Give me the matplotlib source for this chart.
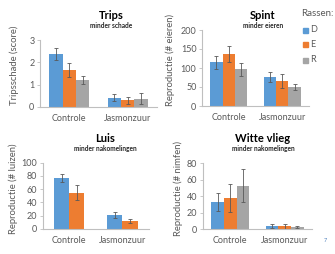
import matplotlib
matplotlib.use('Agg')
import matplotlib.pyplot as plt
from matplotlib import font_manager

# data
groups = ['Controle', 'Jasmonzuur']
rassen = ['D', 'E', 'R']
colors = ['#5B9BD5', '#ED7D31', '#A5A5A5']

trips_mean = [[2.37, 0.42], [1.66, 0.30], [1.21, 0.38]]
trips_err = [[0.25, 0.15], [0.33, 0.17], [0.19, 0.25]]

spint_mean = [[115, 76], [136, 66], [97, 50]]
spint_err = [[17, 14], [21, 18], [17, 9]]

luis_mean = [[77, 21], [55, 12]]
luis_err = [[6, 4.5], [11, 3.5]]

vlieg_mean = [[33, 4.5], [38, 3.5], [53, 2.5]]
vlieg_err = [[11, 2.5], [17.5, 3], [19.5, 1]]

names = {f.name for f in font_manager.fontManager.ttflist}
font = 'Liberation Sans Narrow' if 'Liberation Sans Narrow' in names else 'Lato'
plt.rcParams['font.family'] = [font, 'DejaVu Sans']

W, H = 335, 254
fig = plt.figure(figsize=(W / 100, H / 100), dpi=100)
txt = '#595959'


def px_axes(l, t, r, b):
    return fig.add_axes([l / W, (H - b) / H, (r - l) / W, (b - t) / H])


def panel(rect, means, errs, ymax, yticks, ylabel, title, sub, tpos, ylab_x, ylab_y):
    l, t, r, b = rect
    ax = px_axes(l, t, r, b)
    n = len(means)
    w = 0.23 if n == 3 else 0.285
    for i in range(n):
        off = (i - (n - 1) / 2) * w
        xs = [j + off for j in range(len(groups))]
        ax.bar(xs, means[i], w, color=colors[i], yerr=errs[i],
               error_kw=dict(ecolor='#595959', elinewidth=0.6, capsize=1.2, capthick=0.6))
    ax.set_xlim(-0.5, 1.5)
    ax.set_ylim(0, ymax)
    ax.set_yticks(yticks)
    ax.set_xticks(range(len(groups)))
    ax.set_xticklabels(groups)
    for s in ['top', 'right']:
        ax.spines[s].set_visible(False)
    for s in ['left', 'bottom']:
        ax.spines[s].set_color('#BFBFBF')
        ax.spines[s].set_linewidth(0.8)
    ax.tick_params(axis='y', length=2, width=0.6, color='#BFBFBF', pad=2,
                   labelsize=6.5, labelcolor=txt)
    ax.tick_params(axis='x', length=0, pad=5, labelsize=6.5, labelcolor=txt)
    ax.set_ylabel(ylabel, fontsize=6.8, color=txt)
    ax.yaxis.set_label_coords(-(l - ylab_x) / (r - l), (b - ylab_y) / (b - t))
    ax.yaxis.label.set_horizontalalignment('center')
    ax.yaxis.label.set_verticalalignment('center')
    top = t < 100
    fig.text(tpos / W, 1 - (15.5 if top else 138) / H, title,
             ha='center', va='center', fontsize=8, fontweight='bold', color='black')
    fig.text(tpos / W, 1 - (26 if top else 149) / H, sub,
             ha='center', va='center', fontsize=4.7, fontweight='bold', color='#262626')
    return ax


panel((40, 40, 157, 107), trips_mean, trips_err, 3, [0, 1, 2, 3],
      'Tripsschade (score)', 'Trips', 'minder schade', 111, 14, 65)
panel((202, 30, 309, 106), spint_mean, spint_err, 200, [0, 50, 100, 150, 200],
      'Reproductie (# eieren)', 'Spint', 'minder eieren', 263, 170, 60)
panel((42.7, 162.7, 149, 229), luis_mean, luis_err, 100, [0, 20, 40, 60, 80, 100],
      'Reproductie (# luizen)', 'Luis', 'minder nakomelingen', 105, 13, 189)
panel((203, 163.3, 312, 229.3), vlieg_mean, vlieg_err, 80, [0, 20, 40, 60, 80],
      'Reproductie (# nimfen)', 'Witte vlieg', 'minder nakomelingen', 263, 178, 188)

# legend
fig.text(301 / W, 1 - 14 / H, 'Rassen:', ha='left', va='center', fontsize=7, color=txt)
for k, (lab, c) in enumerate(zip(rassen, colors)):
    y = [30, 44.5, 60][k]
    fig.patches.append(plt.Rectangle((302.5 / W, 1 - (y + 2.5) / H), 5 / W, 5 / H,
                                     transform=fig.transFigure, color=c, figure=fig))
    fig.text(310 / W, 1 - y / H, lab, ha='left', va='center', fontsize=6.5, color=txt)

fig.text(325 / W, 1 - 241 / H, '7', ha='center', va='center', fontsize=4, color='#4F81BD')

fig.savefig('out.png', dpi=100)
